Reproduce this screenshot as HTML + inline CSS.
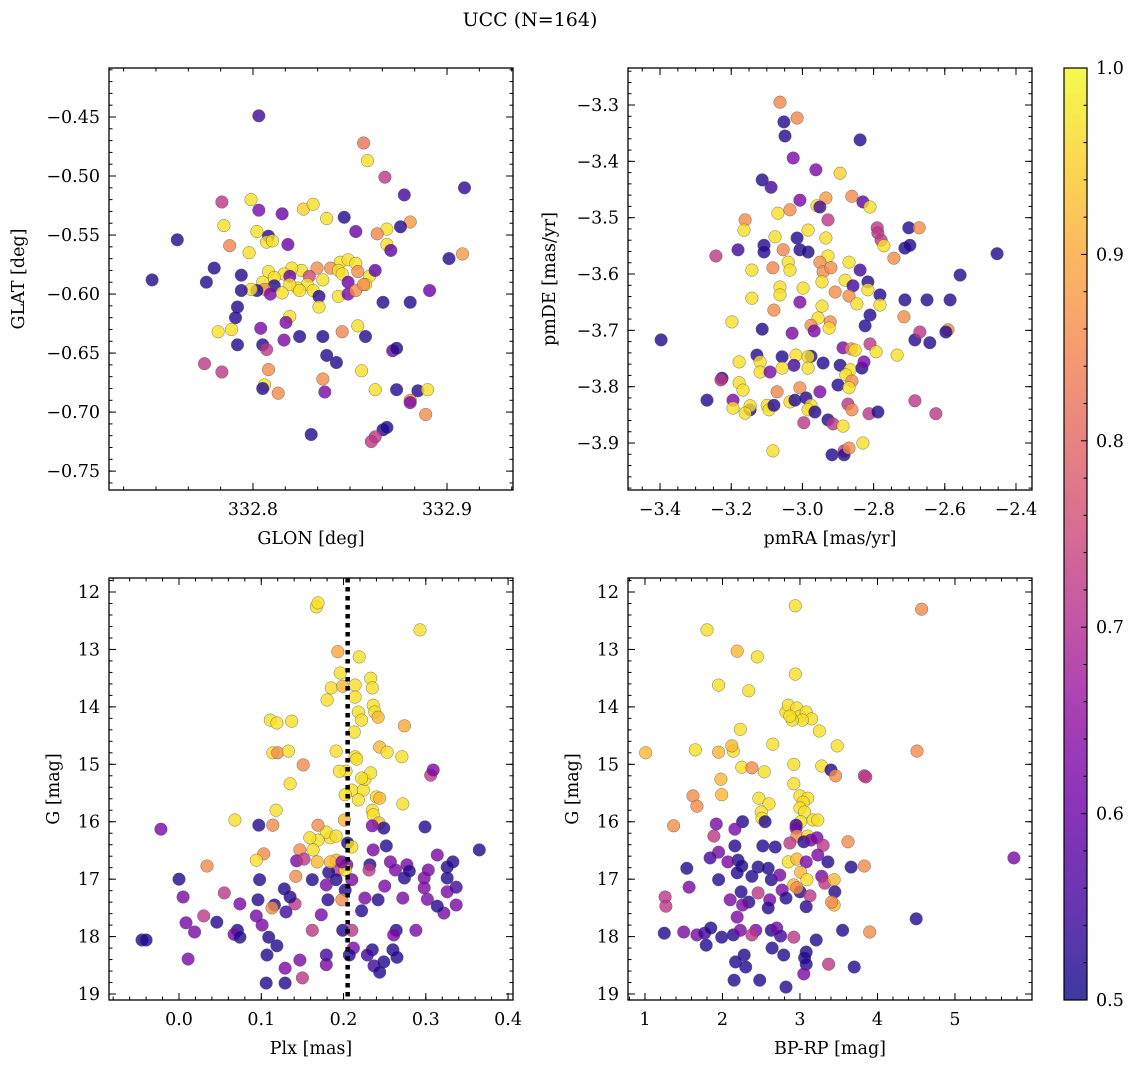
<!DOCTYPE html>
<html><head><meta charset="utf-8">
<style>
html,body{margin:0;padding:0;background:#fff;}
svg{display:block;font-family:"DejaVu Serif","Liberation Serif",serif;}
</style></head>
<body>
<svg id="fig" width="1136" height="1067" viewBox="0 0 1136 1067" xmlns="http://www.w3.org/2000/svg">
<defs>
<linearGradient id="cbgrad" x1="0" y1="1" x2="0" y2="0">
<stop offset="0" stop-color="#0d0887"/><stop offset="0.1" stop-color="#41049d"/><stop offset="0.2" stop-color="#6a00a8"/><stop offset="0.3" stop-color="#8f0da4"/><stop offset="0.4" stop-color="#b12a90"/><stop offset="0.5" stop-color="#cc4778"/><stop offset="0.6" stop-color="#e16462"/><stop offset="0.7" stop-color="#f2844b"/><stop offset="0.8" stop-color="#fca636"/><stop offset="0.9" stop-color="#fcce25"/><stop offset="1" stop-color="#f0f921"/>
</linearGradient>
</defs>
<text x="530" y="26" font-size="19" text-anchor="middle">UCC (N=164)</text>
</svg>
<script>
// ---- data: [x, y, prob] ----
const glonGlat = [
[332.803,-0.449,.55],[332.857,-0.472,.82],[332.859,-0.487,.97],[332.868,-0.501,.72],[332.909,-0.510,.53],[332.878,-0.516,.55],
[332.799,-0.520,.97],[332.784,-0.522,.72],[332.803,-0.529,.62],[332.826,-0.528,.95],[332.831,-0.524,.97],[332.815,-0.532,.6],
[332.847,-0.535,.52],[332.838,-0.536,.97],[332.881,-0.539,.88],[332.876,-0.543,.52],[332.802,-0.547,.97],[332.785,-0.542,.97],
[332.761,-0.554,.52],[332.853,-0.547,.6],[332.869,-0.545,.97],[332.864,-0.549,.85],[332.808,-0.551,.52],[332.788,-0.559,.85],
[332.818,-0.558,.6],[332.869,-0.558,.97],[332.807,-0.556,.97],[332.810,-0.555,.97],[332.780,-0.578,.52],[332.794,-0.584,.52],
[332.798,-0.565,.97],[332.908,-0.566,.88],[332.871,-0.563,.58],[332.901,-0.570,.52],[332.845,-0.573,.97],[332.849,-0.571,.97],
[332.853,-0.574,.97],[332.840,-0.578,.86],[332.844,-0.580,.97],[332.833,-0.578,.86],[332.825,-0.580,.97],[332.820,-0.578,.97],
[332.816,-0.583,.97],[332.808,-0.581,.97],[332.811,-0.586,.97],[332.805,-0.590,.97],[332.819,-0.585,.6],[332.829,-0.585,.75],
[332.836,-0.588,.97],[332.846,-0.583,.97],[332.854,-0.581,.86],[332.860,-0.585,.97],[332.858,-0.592,.97],[332.863,-0.580,.58],
[332.849,-0.590,.6],[332.828,-0.592,.97],[332.823,-0.595,.97],[332.819,-0.592,.97],[332.811,-0.593,.52],[332.806,-0.596,.86],
[332.802,-0.597,.52],[332.799,-0.596,.97],[332.809,-0.600,.62],[332.815,-0.599,.97],[332.824,-0.597,.97],[332.831,-0.597,.97],
[332.834,-0.602,.52],[332.844,-0.602,.97],[332.849,-0.600,.62],[332.853,-0.597,.86],[332.794,-0.597,.52],[332.891,-0.597,.6],
[332.857,-0.592,.86],[332.792,-0.611,.52],[332.834,-0.611,.97],[332.867,-0.607,.52],[332.881,-0.607,.52],[332.791,-0.620,.52],
[332.819,-0.619,.97],[332.817,-0.624,.62],[332.789,-0.630,.97],[332.782,-0.632,.97],[332.804,-0.629,.62],[332.846,-0.632,.85],
[332.836,-0.636,.52],[332.824,-0.636,.52],[332.854,-0.627,.97],[332.858,-0.636,.52],[332.792,-0.643,.52],[332.816,-0.639,.62],
[332.805,-0.643,.52],[332.807,-0.647,.72],[332.838,-0.652,.52],[332.872,-0.648,.6],[332.874,-0.646,.52],[332.775,-0.659,.72],
[332.784,-0.666,.72],[332.808,-0.664,.86],[332.856,-0.665,.97],[332.843,-0.658,.52],[332.806,-0.677,.97],[332.805,-0.680,.52],
[332.813,-0.684,.86],[332.863,-0.681,.97],[332.836,-0.672,.86],[332.837,-0.683,.62],[332.874,-0.681,.52],[332.885,-0.682,.52],
[332.890,-0.681,.97],[332.881,-0.690,.86],[332.881,-0.692,.62],[332.889,-0.702,.86],[332.867,-0.715,.52],[332.869,-0.713,.52],
[332.863,-0.721,.72],[332.861,-0.725,.72],[332.830,-0.719,.52],[332.748,-0.588,.52],[332.776,-0.590,.52]
];
const pmRaDe = [
[-3.063,-3.295,.85],[-3.015,-3.323,.85],[-3.052,-3.330,.52],[-3.049,-3.355,.52],[-3.026,-3.394,.62],[-2.838,-3.362,.52],
[-3.113,-3.433,.52],[-3.088,-3.446,.55],[-2.962,-3.415,.62],[-2.894,-3.421,.95],[-3.007,-3.469,.62],[-2.934,-3.465,.88],
[-2.861,-3.462,.86],[-2.830,-3.472,.58],[-2.810,-3.481,.97],[-3.069,-3.492,.97],[-3.035,-3.486,.86],[-2.959,-3.479,.97],
[-2.951,-3.481,.55],[-2.928,-3.504,.72],[-2.790,-3.518,.72],[-2.788,-3.527,.72],[-2.779,-3.540,.72],[-2.701,-3.518,.52],
[-2.672,-3.518,.86],[-3.161,-3.504,.86],[-3.164,-3.522,.97],[-3.077,-3.534,.97],[-3.015,-3.536,.52],[-2.984,-3.522,.97],
[-2.934,-3.536,.97],[-3.108,-3.549,.52],[-3.108,-3.561,.52],[-3.054,-3.557,.85],[-3.181,-3.557,.55],[-2.928,-3.568,.97],
[-3.243,-3.568,.72],[-2.771,-3.550,.97],[-2.712,-3.554,.52],[-2.698,-3.549,.52],[-2.453,-3.564,.52],[-2.557,-3.602,.52],
[-2.743,-3.572,.86],[-3.007,-3.557,.52],[-2.984,-3.561,.52],[-2.951,-3.579,.86],[-2.869,-3.579,.97],[-2.838,-3.593,.55],
[-3.040,-3.579,.97],[-3.035,-3.593,.97],[-3.142,-3.593,.97],[-3.083,-3.589,.85],[-2.942,-3.596,.86],[-2.920,-3.589,.86],
[-2.880,-3.611,.97],[-2.816,-3.614,.52],[-2.782,-3.637,.52],[-2.858,-3.621,.55],[-2.945,-3.614,.97],[-2.908,-3.632,.86],
[-2.869,-3.639,.86],[-2.998,-3.625,.97],[-3.063,-3.623,.97],[-3.142,-3.643,.97],[-3.063,-3.637,.97],[-2.816,-3.628,.97],
[-2.847,-3.653,.97],[-3.080,-3.664,.86],[-2.945,-3.657,.97],[-3.007,-3.650,.62],[-2.782,-3.655,.97],[-2.712,-3.646,.52],
[-2.650,-3.646,.52],[-2.585,-3.646,.52],[-2.810,-3.673,.52],[-2.715,-3.676,.86],[-2.591,-3.699,.86],[-2.597,-3.703,.52],
[-3.198,-3.685,.97],[-3.113,-3.698,.52],[-2.956,-3.678,.97],[-2.922,-3.685,.86],[-2.976,-3.691,.86],[-2.967,-3.701,.62],
[-3.029,-3.705,.62],[-2.925,-3.696,.97],[-2.824,-3.692,.52],[-2.684,-3.717,.52],[-3.397,-3.717,.52],[-3.018,-3.744,.97],
[-2.976,-3.746,.52],[-2.984,-3.747,.97],[-2.886,-3.731,.62],[-2.863,-3.733,.86],[-2.810,-3.724,.72],[-2.852,-3.735,.97],
[-2.793,-3.738,.97],[-2.734,-3.744,.97],[-2.670,-3.703,.72],[-3.128,-3.744,.52],[-3.057,-3.747,.52],[-3.119,-3.756,.97],
[-3.178,-3.756,.97],[-3.024,-3.762,.55],[-3.119,-3.774,.97],[-3.091,-3.774,.62],[-3.057,-3.767,.97],[-2.984,-3.767,.97],
[-2.942,-3.758,.52],[-2.894,-3.762,.52],[-2.866,-3.770,.97],[-2.833,-3.767,.52],[-2.827,-3.756,.62],[-2.878,-3.779,.97],
[-2.861,-3.790,.86],[-3.178,-3.793,.97],[-3.226,-3.785,.52],[-3.229,-3.788,.72],[-3.167,-3.806,.97],[-3.071,-3.809,.85],
[-3.007,-3.802,.86],[-2.990,-3.820,.52],[-2.951,-3.809,.62],[-2.900,-3.797,.52],[-2.869,-3.802,.97],[-2.872,-3.831,.72],
[-3.268,-3.824,.52],[-3.195,-3.824,.62],[-3.147,-3.841,.52],[-3.099,-3.833,.97],[-3.094,-3.841,.97],[-3.035,-3.827,.97],
[-2.976,-3.833,.97],[-2.984,-3.841,.97],[-3.021,-3.824,.52],[-3.080,-3.833,.52],[-2.965,-3.845,.52],[-2.861,-3.841,.86],
[-3.195,-3.838,.97],[-3.147,-3.834,.97],[-3.161,-3.847,.97],[-2.928,-3.859,.52],[-2.996,-3.864,.72],[-2.914,-3.866,.72],
[-2.813,-3.848,.72],[-2.788,-3.845,.52],[-2.886,-3.870,.97],[-2.830,-3.900,.97],[-3.083,-3.914,.97],[-2.917,-3.921,.52],
[-2.883,-3.914,.72],[-2.883,-3.921,.52],[-2.869,-3.909,.86],[-2.684,-3.825,.72],[-2.625,-3.848,.72],[-2.642,-3.722,.52]
];
const plxG = [
[.167,12.26,.97],[.169,12.19,.97],[.293,12.66,.97],[.193,13.04,.9],[.196,13.41,.97],[.185,13.67,.97],[.180,13.88,.97],
[.199,13.64,.92],[.219,13.13,.97],[.214,13.62,.97],[.214,13.83,.97],[.218,14.09,.97],[.222,14.23,.97],[.233,13.50,.97],
[.235,13.67,.97],[.236,13.97,.97],[.238,14.09,.97],[.242,14.18,.92],[.244,14.70,.92],[.274,14.33,.9],[.306,15.19,.72],
[.309,15.10,.62],[.271,14.87,.97],[.253,14.79,.97],[.213,14.44,.97],[.214,14.87,.97],[.216,14.91,.97],[.203,15.12,.97],
[.191,14.77,.97],[.195,15.12,.97],[.210,15.45,.97],[.224,15.45,.97],[.226,15.26,.97],[.233,15.15,.97],[.240,15.57,.97],
[.244,15.59,.92],[.235,15.80,.97],[.236,15.88,.97],[.243,16.02,.92],[.249,16.11,.52],[.272,15.69,.97],[.235,16.07,.62],
[.184,16.28,.97],[.179,16.18,.97],[.169,16.06,.86],[.169,16.32,.97],[.159,16.28,.97],[.163,16.49,.97],[.147,16.49,.86],
[.143,16.68,.62],[.152,16.65,.72],[.168,16.70,.92],[.191,16.67,.92],[.193,16.84,.72],[.182,16.88,.52],[.204,16.75,.62],
[.202,16.84,.97],[.202,17.19,.52],[.210,17.01,.62],[.232,16.75,.52],[.236,16.49,.62],[.252,16.42,.52],[.257,16.70,.62],
[.263,16.84,.62],[.277,16.75,.62],[.272,17.33,.62],[.274,16.98,.52],[.299,16.09,.52],[.298,16.98,.62],[.298,17.15,.62],
[.303,16.84,.62],[.314,16.58,.62],[.326,16.79,.52],[.333,16.70,.52],[.326,17.22,.62],[.322,17.59,.62],[.365,16.49,.52],
[.326,16.98,.52],[.302,17.35,.62],[.314,17.47,.52],[.337,17.14,.55],[.250,17.12,.62],[.280,16.86,.52],[.242,17.36,.52],
[.226,17.33,.62],[.231,16.84,.72],[.222,17.55,.52],[.198,17.36,.86],[.173,17.62,.62],[.181,17.36,.52],[.162,17.01,.52],
[.142,16.95,.86],[.141,17.43,.72],[.135,17.31,.52],[.116,17.45,.52],[.130,17.57,.55],[.119,18.16,.52],[.113,17.50,.86],
[.096,17.36,.52],[.094,17.64,.62],[.101,17.80,.62],[.109,18.01,.52],[.107,18.32,.52],[.129,18.55,.62],[.106,18.81,.52],
[.129,18.81,.52],[.150,18.72,.72],[.179,18.49,.62],[.179,18.32,.55],[.212,18.20,.62],[.235,18.23,.52],[.237,18.51,.55],
[.249,18.44,.52],[.244,18.62,.52],[.260,18.23,.52],[.265,18.36,.52],[.288,17.89,.62],[.337,17.45,.62],[.210,17.89,.72],
[.199,17.89,.52],[.207,18.32,.52],[.229,18.32,.55],[.055,17.24,.72],[.046,17.75,.52],[.074,17.43,.62],[.071,17.89,.52],
[.067,17.96,.62],[.074,18.01,.52],[.098,17.01,.52],[.068,15.97,.97],[.097,16.06,.52],[.114,16.06,.86],[.103,16.56,.86],
[.094,16.67,.97],[.118,15.80,.97],[.135,15.34,.97],[.114,14.80,.97],[.111,14.23,.97],[.119,14.28,.97],[.137,14.25,.97],
[.120,14.80,.86],[.133,14.77,.97],[.151,15.01,.86],[.000,17.00,.52],[.005,17.31,.62],[.0085,17.76,.62],[.019,17.92,.62],
[.011,18.39,.62],[-.022,16.13,.62],[.034,16.77,.86],[.030,17.64,.72],[-.045,18.06,.52],[-.040,18.06,.52],[.184,16.70,.92],
[.264,17.89,.52],[.261,17.97,.62],[.128,17.17,.52],[.147,18.41,.62],[.191,17.01,.52],[.162,17.89,.72],[.179,17.10,.62],
[.205,16.37,.52],[.198,16.70,.62],[.210,16.44,.97],[.191,16.25,.97],[.201,15.97,.92],[.202,15.53,.97],[.218,15.62,.97],
[.222,15.24,.97]
];
const colorG = [
[2.94,12.24,.97],[4.57,12.30,.86],[1.80,12.66,.97],[2.19,13.03,.92],[2.45,13.13,.97],[1.95,13.62,.97],[2.34,13.72,.97],
[2.94,13.43,.97],[2.82,14.09,.97],[2.85,13.97,.97],[2.96,14.02,.97],[3.00,14.16,.97],[3.08,14.09,.97],[3.15,14.21,.97],
[3.03,14.23,.97],[2.90,14.23,.97],[2.87,14.16,.97],[3.25,14.42,.97],[2.23,14.39,.97],[2.14,14.77,.97],[2.12,14.68,.92],
[1.95,14.79,.92],[2.65,14.65,.97],[1.65,14.75,.97],[1.01,14.80,.92],[3.48,14.68,.97],[4.51,14.77,.86],[2.92,15.00,.97],
[3.28,15.03,.97],[2.25,15.05,.97],[2.38,15.06,.86],[1.98,15.26,.92],[2.54,15.13,.97],[3.40,15.10,.52],[2.92,15.34,.97],
[3.46,15.20,.86],[3.83,15.20,.72],[1.62,15.55,.86],[1.99,15.53,.92],[2.47,15.59,.97],[3.00,15.55,.97],[3.10,15.59,.97],
[3.04,15.66,.97],[2.60,15.69,.97],[1.67,15.73,.86],[1.37,16.07,.86],[2.50,15.83,.97],[2.51,15.94,.97],[3.00,15.76,.97],
[3.06,15.83,.97],[3.01,16.00,.97],[3.17,15.97,.97],[3.23,15.97,.97],[2.55,16.00,.52],[2.26,16.00,.52],[2.16,16.13,.62],
[1.92,16.04,.62],[1.89,16.25,.72],[2.95,16.06,.52],[2.95,16.11,.62],[3.62,16.35,.86],[2.96,16.25,.86],[3.10,16.25,.97],
[1.95,16.53,.62],[2.16,16.42,.52],[2.52,16.42,.52],[2.68,16.44,.52],[2.87,16.37,.72],[3.05,16.35,.52],[3.14,16.32,.62],
[3.22,16.28,.62],[3.30,16.41,.72],[2.20,16.67,.52],[2.07,16.70,.62],[2.25,16.77,.52],[2.46,16.79,.52],[2.59,16.81,.52],
[2.85,16.70,.97],[2.96,16.65,.92],[3.08,16.70,.62],[3.23,16.58,.62],[3.36,16.70,.52],[3.66,16.79,.52],[3.83,16.77,.86],
[1.54,16.81,.52],[1.84,16.63,.55],[1.95,17.01,.52],[2.19,16.89,.52],[2.38,16.95,.52],[2.63,17.01,.52],[2.74,16.93,.62],
[3.01,16.88,.92],[3.28,16.95,.62],[3.32,17.07,.72],[2.92,17.10,.92],[3.09,17.01,.97],[3.00,17.22,.52],[3.44,17.01,.92],
[3.45,17.22,.52],[3.13,17.29,.72],[2.96,17.15,.86],[2.77,17.19,.62],[2.61,17.36,.62],[2.46,17.24,.72],[2.34,17.40,.52],
[2.24,17.22,.52],[2.10,17.36,.62],[2.26,17.45,.62],[2.59,17.50,.52],[2.82,17.33,.52],[3.08,17.48,.52],[3.44,17.45,.92],
[3.41,17.40,.86],[1.57,17.14,.62],[1.26,17.31,.72],[1.27,17.47,.72],[1.25,17.94,.52],[1.50,17.92,.62],[1.67,17.97,.62],
[1.77,17.94,.55],[1.85,17.85,.52],[1.99,18.01,.52],[2.14,17.97,.52],[2.23,17.89,.62],[2.19,17.66,.62],[2.43,17.89,.62],
[2.63,17.89,.52],[2.70,17.85,.62],[2.75,17.99,.55],[2.92,18.01,.72],[3.21,18.06,.52],[3.55,17.89,.52],[3.90,17.92,.86],
[2.38,17.97,.72],[1.79,18.15,.52],[2.28,18.32,.52],[2.64,18.20,.52],[2.79,18.32,.52],[3.08,18.27,.52],[3.06,18.37,.52],
[3.08,18.48,.52],[2.17,18.44,.52],[2.30,18.53,.52],[2.15,18.76,.52],[2.48,18.76,.52],[2.82,18.88,.52],[3.05,18.65,.62],
[3.37,18.48,.72],[3.70,18.53,.52],[4.50,17.69,.52],[5.76,16.63,.62],[3.85,15.22,.72]
];
const plxRef = [0.205];
const cbTicks = [0.5,0.6,0.7,0.8,0.9,1.0];

const NS = "http://www.w3.org/2000/svg";
const svg = document.getElementById('fig');
function el(tag, attrs, parent){ const e=document.createElementNS(NS,tag); for(const k in attrs) e.setAttribute(k,attrs[k]); (parent||svg).appendChild(e); return e; }

const stops=[[0,[13,8,135]],[.1,[65,4,157]],[.2,[106,0,168]],[.3,[143,13,164]],[.4,[177,42,144]],[.5,[204,71,120]],[.6,[225,100,98]],[.7,[242,132,75]],[.8,[252,166,54]],[.9,[252,206,37]],[1,[240,249,33]]];
function plasma(c){ let t=Math.max(0,Math.min(1,(c-0.5)/0.5)); for(let i=0;i<stops.length-1;i++){ const a=stops[i],b=stops[i+1]; if(t<=b[0]){ const f=(t-a[0])/(b[0]-a[0]); return 'rgb('+a[1].map((v,j)=>Math.round(v+(b[1][j]-v)*f)).join(',')+')'; } } return 'rgb(240,249,33)'; }
function fmt(v,d){ const s=Math.abs(v).toFixed(d); return (v< -1e-9?'\u2212':'')+s; }

function panel(cfg){
  const g=el('g',{});
  
  
  const {L,T,R,B}=cfg;
  const sx=v=>L+(v-cfg.xd[0])/(cfg.xd[1]-cfg.xd[0])*(R-L);
  const sy=v=>B-(v-cfg.yd[0])/(cfg.yd[1]-cfg.yd[0])*(B-T);
  const clip='clip-'+cfg.name;
  const cp=el('clipPath',{id:clip},g); el('rect',{x:L,y:T,width:R-L,height:B-T},cp);
  const pts=el('g',{'clip-path':'url(#'+clip+')'},g);
  cfg.data.forEach(d=>{
    const c=el('circle',{cx:sx(d[0]).toFixed(1),cy:sy(d[1]).toFixed(1),r:6.3,fill:plasma(d[2]),'fill-opacity':0.8,stroke:'#555','stroke-width':0.4},pts);
    
    
  });
  if(cfg.vline!==undefined){
    const ln=el('line',{x1:sx(cfg.vline),x2:sx(cfg.vline),y1:T,y2:B,stroke:'#000','stroke-width':4.5,'stroke-dasharray':'4.5,4.5'},pts);
    
    
  }
  const tk=el('g',{stroke:'#000','stroke-width':1},g);
  function ticks(axis,step,len,labels,dec){
    const d=axis==='x'?cfg.xd:cfg.yd;
    const lo=Math.min(d[0],d[1]), hi=Math.max(d[0],d[1]);
    const start=Math.ceil((lo-1e-9)/step), end=Math.floor((hi+1e-9)/step);
    for(let i=start;i<=end;i++){
      const v=i*step;
      if(axis==='x'){ const p=sx(v);
        el('line',{x1:p,x2:p,y1:B,y2:B-len},tk); el('line',{x1:p,x2:p,y1:T,y2:T+len},tk);
        if(labels){ const t=el('text',{x:p,y:B+25,'font-size':17.5,'text-anchor':'middle'},g); t.textContent=fmt(v,dec);   }
      } else { const p=sy(v);
        el('line',{x1:L,x2:L+len,y1:p,y2:p},tk); el('line',{x1:R,x2:R-len,y1:p,y2:p},tk);
        if(labels){ const t=el('text',{x:L-9,y:p+6,'font-size':17.5,'text-anchor':'end'},g); t.textContent=fmt(v,dec);   }
      }
    }
  }
  ticks('x',cfg.xmaj,7,true,cfg.xdec); ticks('x',cfg.xmin,3.5,false);
  ticks('y',cfg.ymaj,7,true,cfg.ydec); ticks('y',cfg.ymin,3.5,false);
  const fr=el('rect',{x:L,y:T,width:R-L,height:B-T,fill:'none',stroke:'#000','stroke-width':1.3},g);
   
  const xl=el('text',{x:(L+R)/2,y:B+54,'font-size':17.5,'text-anchor':'middle'},g); xl.textContent=cfg.xlabel;
   
  const yl=el('text',{x:cfg.ylx,y:(T+B)/2,'font-size':17.5,'text-anchor':'middle',transform:'rotate(-90 '+cfg.ylx+' '+((T+B)/2)+')'},g); yl.textContent=cfg.ylabel;
   
}

panel({name:'glon-glat-panel',L:109,T:68,R:513,B:490,xd:[332.7258,332.934],yd:[-0.766,-0.4085],xmaj:0.1,xmin:0.1/6,ymaj:0.05,ymin:0.01,xdec:1,ydec:2,data:glonGlat,xlabel:'GLON [deg]',ylabel:'GLAT [deg]',ylx:24});
panel({name:'pmra-pmde-panel',L:628,T:68,R:1032,B:490,xd:[-3.49,-2.355],yd:[-3.9834,-3.2343],xmaj:0.2,xmin:0.05,ymaj:0.1,ymin:0.02,xdec:1,ydec:1,data:pmRaDe,xlabel:'pmRA [mas/yr]',ylabel:'pmDE [mas/yr]',ylx:555});
panel({name:'plx-g-panel',L:109,T:578,R:513,B:1000,xd:[-0.0851,0.406],yd:[19.104,11.756],xmaj:0.1,xmin:0.02,ymaj:1,ymin:0.2,xdec:1,ydec:0,data:plxG,vline:plxRef[0],xlabel:'Plx [mas]',ylabel:'G [mag]',ylx:59});
panel({name:'color-g-panel',L:628,T:578,R:1032,B:1000,xd:[0.781,5.994],yd:[19.104,11.756],xmaj:1,xmin:0.2,ymaj:1,ymin:0.2,xdec:0,ydec:0,data:colorG,xlabel:'BP-RP [mag]',ylabel:'G [mag]',ylx:578});

// colorbar
const cb=el('g',{});


const CL=1064,CR=1087,CT=68,CB=1000;
el('rect',{x:CL,y:CT,width:CR-CL,height:CB-CT,fill:'url(#cbgrad)','fill-opacity':0.8},cb);
el('rect',{x:CL,y:CT,width:CR-CL,height:CB-CT,fill:'none',stroke:'#000','stroke-width':1.2},cb);
const cy=v=>CB-(v-0.5)/0.5*(CB-CT);
for(let i=25;i<=50;i++){ const v=i/50; el('line',{x1:CR,x2:CR-(i%5===0?6:3.5),y1:cy(v),y2:cy(v),stroke:'#000','stroke-width':1},cb); }
cbTicks.forEach(v=>{ const t=el('text',{x:CR+9,y:cy(v)+6,'font-size':17.5},cb); t.textContent=v.toFixed(1);
  
   });
</script>
</body></html>
